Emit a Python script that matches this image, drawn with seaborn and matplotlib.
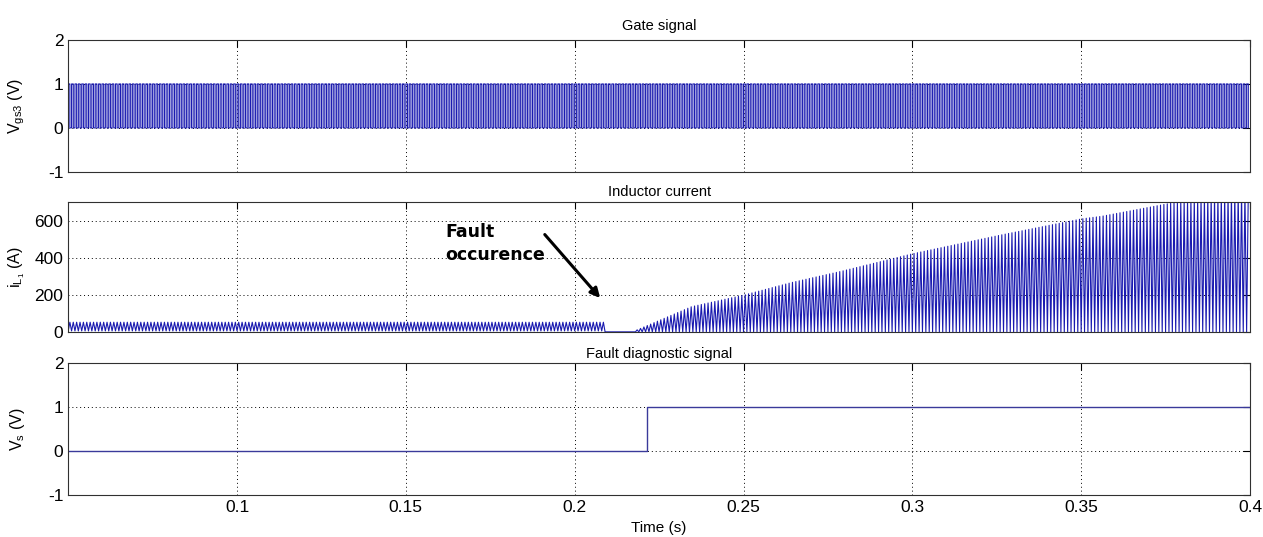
import numpy as np
import pandas as pd
import seaborn as sns
import matplotlib.pyplot as plt

sns.set_style("white")
plt.rcParams['font.family'] = ['Liberation Sans', 'DejaVu Sans']
plt.rcParams['axes.unicode_minus'] = False
plt.rcParams['text.color'] = 'black'
plt.rcParams['axes.labelcolor'] = 'black'
plt.rcParams['xtick.color'] = 'black'
plt.rcParams['ytick.color'] = 'black'

# ---- values ----
t_start, t_end = 0.05, 0.4
t_switch = 0.001          # switching period (s)
duty = 0.5
ripple_low, ripple_high = 5, 52   # pre-fault inductor ripple (A)
t_fault_open = 0.2081     # current drops to zero
t_fault_rise = 0.2171     # current starts to rise again
t_detect = 0.2214         # diagnostic signal goes high
env_t = [0.2171, 0.2346, 0.25, 0.2642, 0.279, 0.30, 0.3264, 0.35, 0.356, 0.3783, 0.40]
env_i = [0, 136, 198, 266, 327, 421, 523, 609, 623, 700, 760]

# ---- build the waveforms from those values ----
periods = np.arange(t_start, t_end, t_switch)
gate_t = np.repeat(np.column_stack([periods, periods + duty * t_switch]).ravel(), 2)
gate_v = np.tile([0, 1, 1, 0], len(periods))
gate = pd.DataFrame({"t": gate_t, "v": gate_v})

cur_t, cur_i = [], []
for p in periods:
    mid = p + duty * t_switch
    if p < t_fault_open:
        cur_t += [p, mid]
        cur_i += [ripple_low, ripple_high]
    elif p < t_fault_rise:
        cur_t += [p, mid]
        cur_i += [0, 0]
    else:
        cur_t += [p, mid]
        cur_i += [0, float(np.interp(mid, env_t, env_i))]
current = pd.DataFrame({"t": cur_t, "i": cur_i})

diag = pd.DataFrame({"t": [t_start, t_detect, t_detect, t_end], "v": [0, 0, 1, 1]})

# ---- figure ----
fig = plt.figure(figsize=(12.63, 5.37), dpi=100)
left, width = 0.054, 0.9357
ax1 = fig.add_axes([left, 0.680, width, 0.2455])
ax2 = fig.add_axes([left, 0.382, width, 0.2418])
ax3 = fig.add_axes([left, 0.078, width, 0.2458])

blue = "#1a1ab0"
sns.lineplot(data=gate, x="t", y="v", ax=ax1, estimator=None, sort=False,
             color=blue, lw=0.8)
sns.lineplot(data=current, x="t", y="i", ax=ax2, estimator=None, sort=False,
             color=blue, lw=0.8)
sns.lineplot(data=diag, x="t", y="v", ax=ax3, estimator=None, sort=False,
             color="#3a3a9a", lw=1.0)

grid_kw = dict(color="black", linestyle=(0, (1, 3)), lw=0.7)
for ax in (ax1, ax2, ax3):
    ax.set_xlim(t_start, t_end)
    ax.set_xticks([0.1, 0.15, 0.2, 0.25, 0.3, 0.35, 0.4])
    ax.grid(True, **grid_kw)
    ax.tick_params(direction="in", length=5, labelsize=12.5, top=True, right=True)
    for s in ax.spines.values():
        s.set_color("#303030")
        s.set_linewidth(0.8)
    ax.set_xlabel("")

for ax in (ax1, ax3):
    ax.set_ylim(-1, 2)
    ax.set_yticks([-1, 0, 1, 2])
ax2.set_ylim(0, 700)
ax2.set_yticks([0, 200, 400, 600])

ax1.tick_params(labelbottom=False)
ax2.tick_params(labelbottom=False)
ax3.set_xticklabels(["0.1", "0.15", "0.2", "0.25", "0.3", "0.35", "0.4"])

ax1.set_title("Gate signal", fontsize=10.5, pad=7)
ax2.set_title("Inductor current", fontsize=10.5, pad=4)
ax3.set_title("Fault diagnostic signal", fontsize=10.5, pad=4)

ax1.set_ylabel(r"V$_{\mathregular{gs3}}$ (V)", fontsize=11.5)
ax2.set_ylabel(r"i$_{\mathregular{L_1}}$ (A)", fontsize=11.5)
ax3.set_ylabel(r"V$_{\mathregular{s}}$ (V)", fontsize=11.5)
ax3.set_xlabel("Time (s)", fontsize=11)
for ax in (ax1, ax2, ax3):
    ax.yaxis.set_label_coords(-0.035, 0.5)
ax3.xaxis.labelpad = 4

ax2.annotate("", xy=(0.2081, 171), xytext=(0.1906, 536),
             arrowprops=dict(arrowstyle="-|>", color="black", lw=2.2,
                             mutation_scale=14), annotation_clip=False)
ax2.text(0.1616, 386, "Fault\noccurence", fontsize=12.5, fontweight="bold",
         family="DejaVu Sans", color="black", ha="left", va="baseline",
         linespacing=1.35)

fig.savefig("out.png", dpi=100)
